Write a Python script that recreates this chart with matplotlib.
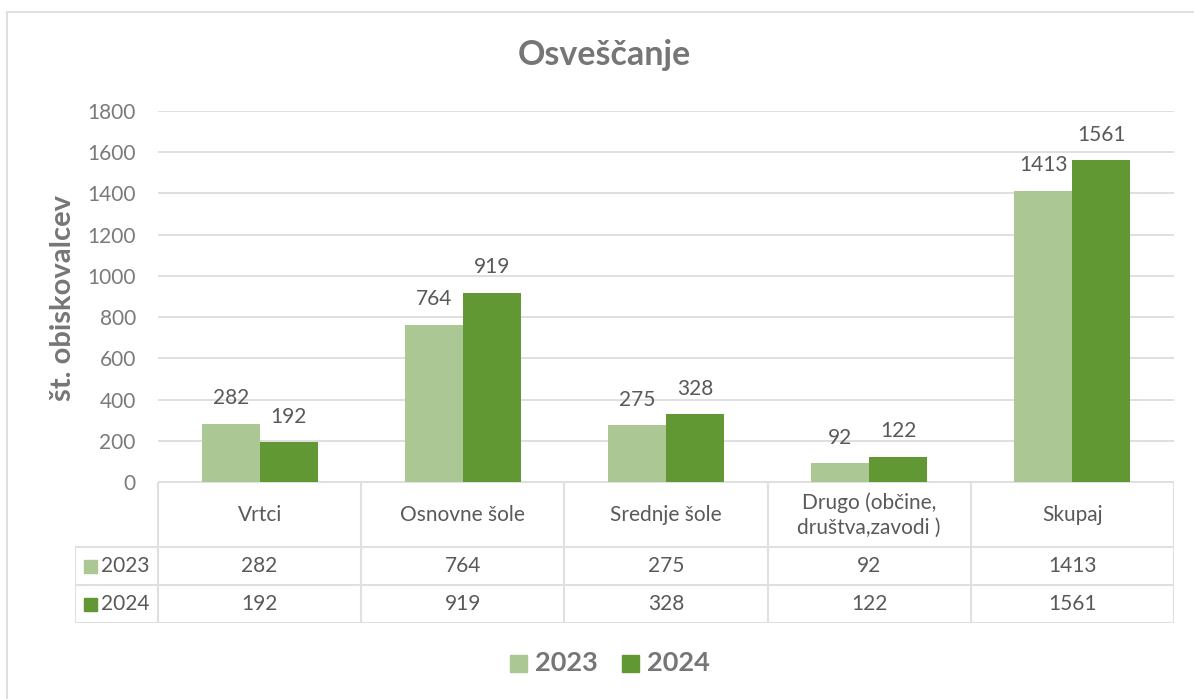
import matplotlib.pyplot as plt
import numpy as np
from matplotlib.patches import Rectangle

plt.rcParams['font.family'] = ['Lato', 'DejaVu Sans']

categories = ['Vrtci', 'Osnovne šole', 'Srednje šole', 'Drugo (občine,\ndruštva,zavodi )', 'Skupaj']
years = ['2023', '2024']
v2023 = [282, 764, 275, 92, 1413]
v2024 = [192, 919, 328, 122, 1561]
colors = ['#ABC793', '#629834']
yticks = np.arange(0, 2000, 200)

W, H = 1194, 699
fig = plt.figure(figsize=(W / 100, H / 100), dpi=100)
txt = '#595959'
grid = '#D9D9D9'

def fx(px):
    return px / W

def fy(py):
    return 1 - py / H

# outer frame
fig.add_artist(Rectangle((fx(7), fy(712)), fx(1200), fy(12) - fy(712),
                         transform=fig.transFigure, fill=False, ec='#D9D9D9', lw=1.2))

left, right, top, bottom = 158, 1174, 111, 482
ax = fig.add_axes([fx(left), fy(bottom), fx(right - left), fy(top) - fy(bottom)])
x = np.arange(len(categories))
w = 0.285
ax.bar(x - w / 2, v2023, w, color=colors[0], zorder=3)
ax.bar(x + w / 2, v2024, w, color=colors[1], zorder=3)
for i in range(len(categories)):
    ax.text(x[i] - w / 2, v2023[i] + 75, str(v2023[i]), ha='center', va='bottom', fontsize=15, color=txt)
    ax.text(x[i] + w / 2, v2024[i] + 75, str(v2024[i]), ha='center', va='bottom', fontsize=15, color=txt)
ax.set_xlim(-0.5, len(categories) - 0.5)
ax.set_ylim(0, 1800)
ax.set_yticks(yticks)
ax.set_yticklabels([str(t) for t in yticks], fontsize=15, color='#7A7A7A')
ax.tick_params(axis='y', length=0, pad=16)
ax.set_xticks([])
ax.grid(axis='y', color=grid, lw=1.2, zorder=0)
for s in ax.spines.values():
    s.set_visible(False)
fig.text(fx(63), fy(298), 'št. obiskovalcev', rotation=90, ha='center', va='center',
         fontsize=21, fontweight='bold', color='#767676')

# data table below the plot
tb = fig.add_axes([fx(75), fy(623), fx(right - 75), fy(482) - fy(623)])
tb.set_xlim(75, right)
tb.set_ylim(623, 482)
tb.axis('off')
col_edges = np.linspace(left, right, len(categories) + 1)
lc = '#E0E0E0'
lw = 1.5
for cx in col_edges:
    tb.plot([cx, cx], [482, 623], color=lc, lw=lw)
tb.plot([75, 75], [547, 623], color=lc, lw=lw)
tb.plot([left, right], [482, 482], color=lc, lw=lw)
for ry in [547, 585, 623]:
    tb.plot([75, right], [ry, ry], color=lc, lw=lw)
centers = (col_edges[:-1] + col_edges[1:]) / 2
for i, c in enumerate(categories):
    tb.text(centers[i], 515, c, ha='center', va='center', fontsize=15, color=txt, linespacing=1.3)
rows = [v2023, v2024]
row_y = [566, 604]
for r in range(2):
    tb.add_patch(Rectangle((84, row_y[r] - 6.5), 13, 13, color=colors[r]))
    tb.text(101, row_y[r], years[r], ha='left', va='center', fontsize=15, color=txt)
    for i in range(len(categories)):
        tb.text(centers[i], row_y[r], str(rows[r][i]), ha='center', va='center', fontsize=15, color=txt)

fig.text(fx(604), fy(55), 'Osveščanje', ha='center', va='center', fontsize=24.5,
         fontweight='bold', color='#767676')

# legend
lx = [510, 622]
for k in range(2):
    fig.add_artist(Rectangle((fx(lx[k]), fy(672)), fx(17), fy(655) - fy(672),
                             transform=fig.transFigure, color=colors[k]))
    fig.text(fx(lx[k] + 25), fy(663), years[k], ha='left', va='center', fontsize=19.5,
             fontweight='bold', color='#767676')

fig.savefig('out.png', dpi=100)
